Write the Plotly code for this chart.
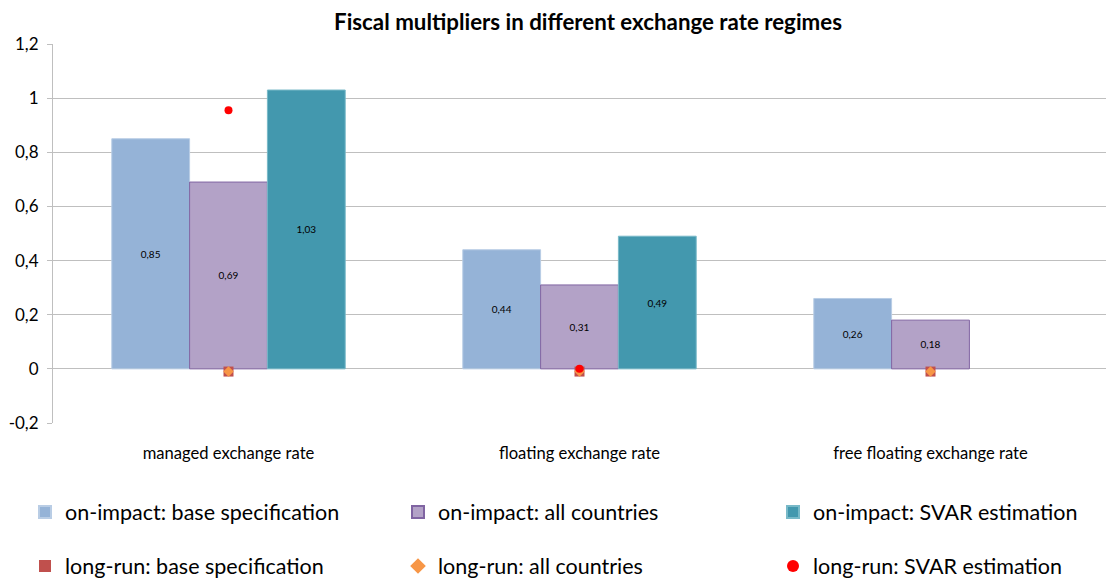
import plotly.graph_objects as go

categories = ["managed exchange rate", "floating exchange rate", "free floating exchange rate"]
impact_base = [0.85, 0.44, 0.26]
impact_all = [0.69, 0.31, 0.18]
impact_svar = [1.03, 0.49, None]
long_base = [-0.01, -0.01, -0.01]
long_all = [-0.01, -0.01, -0.01]
long_svar = [0.955, 0.0, None]
y_ticks = [-0.2, 0, 0.2, 0.4, 0.6, 0.8, 1.0, 1.2]

FONT = "Lato"

def lab(vals):
    return [("" if v is None else f"{v:.2f}".replace(".", ",")) for v in vals]

# legend slots (column x px, row y px) in container pixels
col_x = [25, 398, 773]
row_y = [512, 566]

fig = go.Figure()
bar_specs = [
    ("on-impact: base specification", impact_base, "rgb(149,179,215)", "rgb(185,205,229)"),
    ("on-impact: all countries", impact_all, "rgb(179,162,199)", "rgb(128,100,162)"),
    ("on-impact: SVAR estimation", impact_svar, "rgb(67,152,174)", "rgb(120,185,200)"),
]
legend_names = ["legend2", "legend3", "legend4", "legend5", "legend6", "legend7"]
for i, (name, vals, col, line) in enumerate(bar_specs):
    fig.add_trace(go.Bar(
        x=categories, y=vals, name=name,
        marker=dict(color=col, line=dict(color=line, width=1)),
        text=lab(vals), textposition="inside", insidetextanchor="middle",
        textfont=dict(size=10, color="black", family=FONT),
        textangle=0, legend=legend_names[i],
    ))

sc_specs = [
    ("long-run: base specification", long_base, "square", 10, "rgb(192,80,77)"),
    ("long-run: all countries", long_all, "diamond", 8, "rgb(247,150,70)"),
    ("long-run: SVAR estimation", long_svar, "circle", 8, "rgb(255,0,0)"),
]
for i, (name, vals, sym, size, col) in enumerate(sc_specs):
    fig.add_trace(go.Scatter(
        x=categories, y=vals, name=name, mode="markers",
        marker=dict(symbol=sym, size=size, color=col),
        legend=legend_names[3 + i], cliponaxis=False,
    ))

L, T, B, R = 53, 44, 156, 0

leg_layout = {}
for k, ln in enumerate(legend_names):
    r, c = divmod(k, 3)
    leg_layout[ln] = dict(
        xref="container", yref="container",
        x=col_x[c] / 1106, y=1 - row_y[r] / 579,
        xanchor="left", yanchor="middle", orientation="h",
        font=dict(size=21.5, family=FONT, color="black"),
        bgcolor="rgba(0,0,0,0)", itemsizing="constant",
    )

fig.update_layout(
    width=1106, height=579,
    showlegend=True,
    margin=dict(l=L, r=R, t=T, b=B, autoexpand=False),
    paper_bgcolor="white", plot_bgcolor="white",
    separators=",.",
    barmode="group", bargap=0.335, bargroupgap=0,
    title=dict(text="<b>Fiscal multipliers in different exchange rate regimes</b>",
               x=588 / 1106, xanchor="center", y=1 - 22 / 579, yanchor="middle",
               xref="container", yref="container",
               font=dict(size=22.3, family=FONT, color="black")),
    font=dict(family=FONT, color="black"),
    xaxis=dict(showgrid=False, showline=False, ticks="", ticklabelstandoff=18,
               automargin=False,
               tickfont=dict(size=16.6, family=FONT, color="black")),
    yaxis=dict(range=[-0.2, 1.2], tickvals=y_ticks,
               ticktext=[f"{v:g}".replace(".", ",") for v in y_ticks],
               automargin=False, ticklabelstandoff=5,
               showgrid=True, gridcolor="rgb(191,191,191)", gridwidth=1,
               zeroline=True, zerolinecolor="rgb(191,191,191)", zerolinewidth=1,
               showline=True, linecolor="rgb(191,191,191)", linewidth=1,
               ticks="outside", ticklen=5, tickcolor="rgb(191,191,191)",
               tickfont=dict(size=17, family=FONT, color="black")),
    **leg_layout,
)

fig.write_html("out.html", config={"displayModeBar": False},
               post_script="document.body.style.margin='0';")
